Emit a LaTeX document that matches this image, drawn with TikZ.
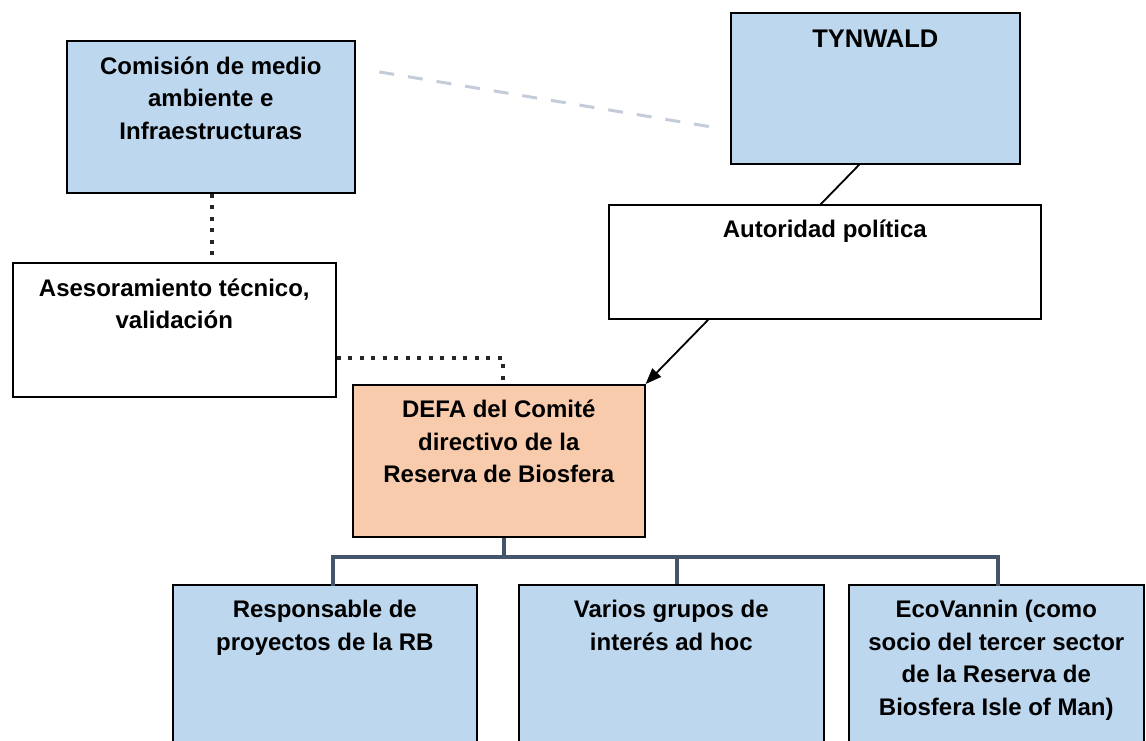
\documentclass[tikz,border=0pt]{standalone}
\usepackage{fontspec}
\setmainfont{Liberation Sans}
\usetikzlibrary{arrows.meta,backgrounds}
\definecolor{boxblue}{HTML}{BDD7EE}
\definecolor{boxpeach}{HTML}{F8CBAD}
\definecolor{treeblue}{HTML}{44546A}
\definecolor{dashgrey}{HTML}{C5CCD9}
\newcommand\boxtxt[4]{\parbox[c][#2][t]{#1}{\centering\rule{0pt}{#3}#4\par}}
\tikzset{
  box/.style={draw=black, line width=1.6pt, inner sep=0pt, anchor=north west,
    font=\fontsize{24}{32.5}\selectfont\bfseries},
  bluebox/.style={box, fill=boxblue},
  whitebox/.style={box, fill=white},
  peachbox/.style={box, fill=boxpeach},
  dots/.style={line width=4pt, dash pattern=on 4pt off 7.5pt, black!85},
  tree/.style={line width=3.5pt, treeblue},
  arr/.style={line width=1.8pt, -{Triangle[length=16pt,width=12pt]}},
  faint/.style={line width=3pt, dashgrey, dash pattern=on 15pt off 14pt}
}
\begin{document}
\begin{tikzpicture}[x=1pt,y=-1pt]
\useasboundingbox (0,0) rectangle (1146,740);
\node[bluebox] (com) at (66,40) {\boxtxt{288pt}{152pt}{33.5pt}{Comisión de medio\\ambiente e\\Infraestructuras}};
\node[bluebox] (tyn) at (730,12) {\boxtxt{289pt}{151pt}{35pt}{\fontsize{25.5}{32.5}\selectfont TYNWALD}};
\node[whitebox] (aut) at (608,204) {\boxtxt{432pt}{114pt}{33pt}{Autoridad política}};
\node[whitebox] (ase) at (12,262) {\boxtxt{323pt}{134pt}{33.5pt}{Asesoramiento técnico,\\validación}};
\node[peachbox] (defa) at (352,384) {\boxtxt{292pt}{152pt}{32.7pt}{DEFA del Comité\\directivo de la\\Reserva de Biosfera}};
\node[bluebox] (b1) at (172,584) {\boxtxt{304pt}{180pt}{33pt}{Responsable de\\proyectos de la RB}};
\node[bluebox] (b2) at (518,584) {\boxtxt{305pt}{180pt}{33pt}{Varios grupos de\\interés ad hoc}};
\node[bluebox] (b3) at (848,584) {\boxtxt{295pt}{180pt}{33pt}{EcoVannin (como\\socio del tercer sector\\de la Reserva de\\Biosfera Isle of Man)}};
\begin{pgfonlayer}{background}
\fill[white] (0,0) rectangle (1146,740);
\draw[arr] ([xshift=-16pt]tyn.south) -- (defa.north east);
\end{pgfonlayer}
\draw[faint, shorten <=24pt, shorten >=12pt] ([yshift=-28pt]com.north east) -- ([yshift=-118pt]tyn.north west);
\draw[dots] (com.south -| 212,0) -- (ase.north -| 212,0);
\draw[dots] ([yshift=-28pt]ase.east) -| ([xshift=4pt]defa.north);
\coordinate (bar) at (0,557);
\draw[tree] ([xshift=5pt]defa.south) -- ([xshift=5pt]defa.south |- bar);
\draw[tree, line cap=rect] ([xshift=8pt]b1.north) -- ([xshift=8pt]b1.north |- bar) -- ([xshift=1.5pt]b3.north |- bar) -- ([xshift=1.5pt]b3.north);
\draw[tree] ([xshift=5.5pt]b2.north) -- ([xshift=5.5pt]b2.north |- bar);
\end{tikzpicture}
\end{document}
